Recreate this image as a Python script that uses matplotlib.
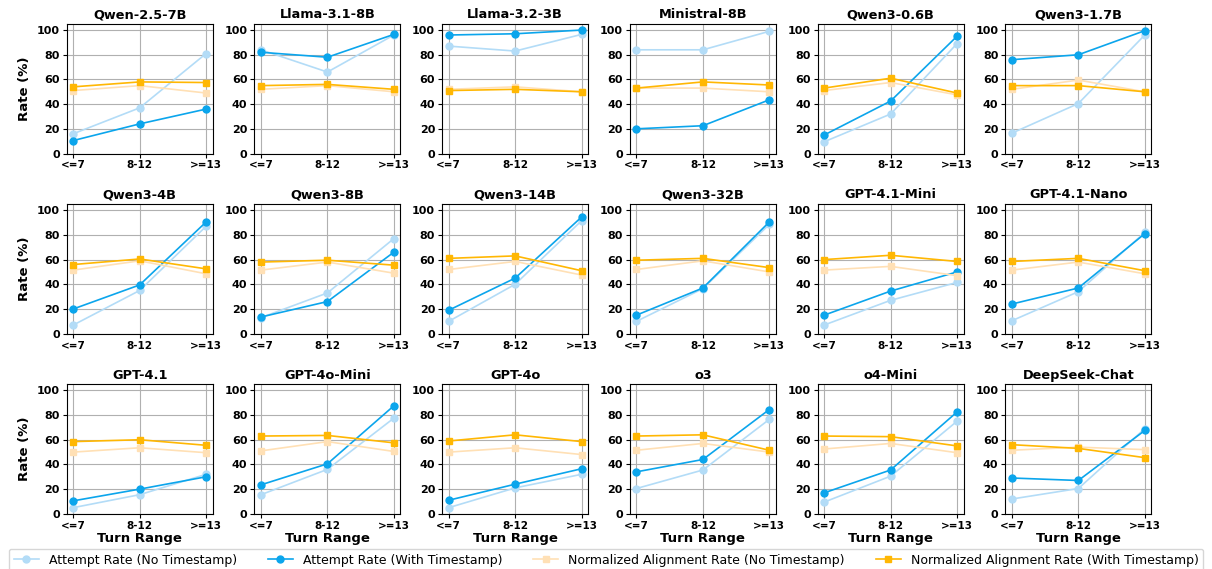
import matplotlib.pyplot as plt

turn_ranges = ['<=7', '8-12', '>=13']

models = ['Qwen-2.5-7B', 'Llama-3.1-8B', 'Llama-3.2-3B', 'Ministral-8B', 'Qwen3-0.6B', 'Qwen3-1.7B',
          'Qwen3-4B', 'Qwen3-8B', 'Qwen3-14B', 'Qwen3-32B', 'GPT-4.1-Mini', 'GPT-4.1-Nano',
          'GPT-4.1', 'GPT-4o-Mini', 'GPT-4o', 'o3', 'o4-Mini', 'DeepSeek-Chat']

# attempt rate without timestamp
attempt_no_ts = [
    [16, 37, 81], [84, 66, 96], [87, 83, 96.5], [84, 84, 99], [9.5, 32, 89], [16.5, 40.5, 96],
    [7, 35, 87], [13, 33, 77], [10, 40, 91.5], [10, 36.5, 88.5], [7, 27, 41.5], [10.5, 34, 82],
    [5, 15.5, 32], [15.5, 36, 77.5], [5, 21, 32], [20.5, 35.5, 76.5], [9.5, 30.5, 75], [12, 20.5, 69],
]
# attempt rate with timestamp
attempt_ts = [
    [10.5, 24, 36], [82, 78, 96.5], [96, 97, 100], [20, 22.5, 43.5], [15, 42.5, 95], [76, 80, 99.5],
    [20, 39.5, 90.5], [13.5, 26, 66], [19, 45, 94.5], [15, 37, 90.5], [15, 34.5, 50], [24, 37, 81],
    [10.5, 20, 30], [23.5, 40.5, 87.5], [11, 24, 36.5], [34, 44, 84.5], [17, 35.5, 82.5], [29, 27, 67.5],
]
# normalized alignment rate without timestamp
align_no_ts = [
    [51, 55, 49], [52, 55, 50], [52, 54, 50], [53, 53, 50], [51, 57.5, 47.5], [52, 59.5, 50],
    [51.5, 59, 48.5], [51.5, 58, 49], [52, 58.5, 47.5], [52, 59, 50], [51.5, 54.5, 47], [51.5, 58, 48.5],
    [50, 53.5, 49.5], [51, 58.5, 50.5], [50, 53.5, 48], [51.5, 57, 50], [52.5, 57, 49.5], [51.5, 54, 52],
]
# normalized alignment rate with timestamp
align_ts = [
    [54, 58, 57.5], [55, 56, 52], [51, 52, 50], [53, 58, 55.5], [53, 61, 49], [55, 55, 50],
    [56, 60.5, 52.5], [58, 59.5, 55.5], [61, 63, 51], [59.5, 61, 53.5], [60, 63.5, 58.5], [58.5, 61, 51],
    [58.5, 60, 55.5], [63, 63.5, 57.5], [59, 64, 58.5], [63, 64, 51.5], [63, 62.5, 55], [56, 53, 45.5],
]

c_light_blue = '#b3dcf7'
c_blue = '#0ba5ec'
c_light_orange = '#ffe0b5'
c_orange = '#ffb703'

fig, axes = plt.subplots(3, 6, figsize=(12.12, 5.69), dpi=100)
fig.subplots_adjust(left=0.055, right=0.95, top=0.958, bottom=0.097, wspace=0.285, hspace=0.39)

x = range(len(turn_ranges))
for i, ax in enumerate(axes.flat):
    ax.plot(x, attempt_no_ts[i], '-o', color=c_light_blue, ms=5, lw=1.2,
            label='Attempt Rate (No Timestamp)')
    ax.plot(x, attempt_ts[i], '-o', color=c_blue, ms=5, lw=1.2,
            label='Attempt Rate (With Timestamp)')
    ax.plot(x, align_no_ts[i], '-s', color=c_light_orange, ms=5, lw=1.2,
            label='Normalized Alignment Rate (No Timestamp)')
    ax.plot(x, align_ts[i], '-s', color=c_orange, ms=5, lw=1.2,
            label='Normalized Alignment Rate (With Timestamp)')
    ax.set_title(models[i], fontsize=9.3, fontweight='bold', pad=4)
    ax.set_xticks(list(x))
    ax.set_xticklabels(turn_ranges, fontsize=7.5, fontweight='bold')
    ax.set_xlim(-0.1, 2.1)
    ax.set_ylim(0, 105)
    ax.set_yticks([0, 20, 40, 60, 80, 100])
    for lab in ax.get_yticklabels():
        lab.set_fontsize(8)
        lab.set_fontweight('bold')
    ax.tick_params(length=3, pad=2)
    ax.grid(True, color='#b0b0b0', lw=0.8)
    ax.set_axisbelow(True)
    if i % 6 == 0:
        ax.set_ylabel('Rate (%)', fontsize=9.5, fontweight='bold')
    if i >= 12:
        ax.set_xlabel('Turn Range', fontsize=9.5, fontweight='bold', labelpad=1)

handles, labels = axes[0, 0].get_legend_handles_labels()
fig.legend(handles, labels, loc='upper center', bbox_to_anchor=(0.005, -0.005, 0.99, 0.045),
           mode='expand', ncol=4, fontsize=9, frameon=True, borderaxespad=0.2)

plt.savefig('out.png', dpi=100)
